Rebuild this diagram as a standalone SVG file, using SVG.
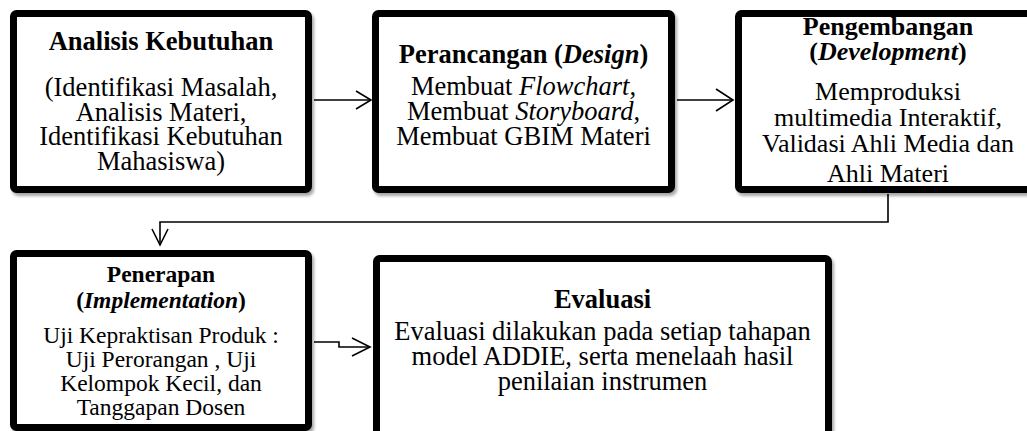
<svg xmlns="http://www.w3.org/2000/svg" width="1027" height="431" viewBox="0 0 1027 431">
<style>
.box{fill:#fff;stroke:#000;stroke-width:7;filter:url(#sh)}
.t{font-family:"Liberation Serif","Times New Roman",serif;font-size:26.5px;fill:#000;text-anchor:middle}
.s{font-size:23.5px}
.b{font-weight:bold}
.i{font-style:italic}
.c{fill:none;stroke:#000;stroke-width:1.6}
</style>
<defs>
<filter id="sh" x="-5%" y="-5%" width="115%" height="120%">
<feDropShadow dx="2" dy="3" stdDeviation="1.8" flood-color="#000" flood-opacity="0.35"/>
</filter>
</defs>
<rect width="1027" height="431" fill="#fff"/>
<g id="connectors">
<path class="c" d="M314,100 H370"/>
<path class="c" d="M356,91 L371,100 L356,109"/>
<path class="c" d="M677,100 H732"/>
<path class="c" d="M716,89 L733,100 L716,111"/>
<path class="c" d="M888,194 V222 H160 V245"/>
<path class="c" d="M152,229 L160,245 L168,229"/>
<path class="c" d="M314,342 H339 V347 H369"/>
<path class="c" d="M352,338 L370,347 L352,356"/>
</g>
<g id="analisis">
<rect class="box" x="13.5" y="13.5" width="295" height="176" rx="3"/>
<text class="t"><tspan class="b" x="161" y="50">Analisis Kebutuhan</tspan><tspan x="161" y="96">(Identifikasi Masalah,</tspan><tspan x="161" y="120.5">Analisis Materi,</tspan><tspan x="161" y="145">Identifikasi Kebutuhan</tspan><tspan x="161" y="169.5">Mahasiswa)</tspan></text>
</g>
<g id="perancangan">
<rect class="box" x="375.5" y="13.5" width="296" height="176" rx="3"/>
<text class="t"><tspan class="b" x="523.5" y="63">Perancangan (<tspan class="i">Design</tspan>)</tspan><tspan x="523.5" y="95">Membuat <tspan class="i">Flowchart</tspan>,</tspan><tspan x="523.5" y="120">Membuat <tspan class="i">Storyboard</tspan>,</tspan><tspan x="523.5" y="145">Membuat GBIM Materi</tspan></text>
</g>
<g id="pengembangan">
<rect class="box" x="738.5" y="13.5" width="299" height="176" rx="3"/>
<text class="t" style="font-size:26px"><tspan class="b" x="888" y="35">Pengembangan</tspan><tspan class="b" x="888" y="60">(<tspan class="i">Development</tspan>)</tspan><tspan x="888" y="100">Memproduksi</tspan><tspan x="888" y="126">multimedia Interaktif,</tspan><tspan x="888" y="152">Validasi Ahli Media dan</tspan><tspan x="888" y="182">Ahli Materi</tspan></text>
</g>
<g id="penerapan">
<rect class="box" x="13.5" y="253.5" width="295" height="174" rx="3"/>
<text class="t s"><tspan class="b" x="161" y="282">Penerapan</tspan><tspan class="b" x="161" y="308">(<tspan class="i">Implementation</tspan>)</tspan><tspan x="161" y="343">Uji Kepraktisan Produk :</tspan><tspan x="161" y="367">Uji Perorangan , Uji</tspan><tspan x="161" y="391">Kelompok Kecil, dan</tspan><tspan x="161" y="415">Tanggapan Dosen</tspan></text>
</g>
<g id="evaluasi">
<rect class="box" x="376.5" y="258.5" width="452" height="190" rx="3"/>
<text class="t"><tspan class="b" x="602.5" y="308">Evaluasi</tspan><tspan x="602.5" y="340">Evaluasi dilakukan pada setiap tahapan</tspan><tspan x="602.5" y="365">model ADDIE, serta menelaah hasil</tspan><tspan x="602.5" y="390">penilaian instrumen</tspan></text>
</g>
</svg>
